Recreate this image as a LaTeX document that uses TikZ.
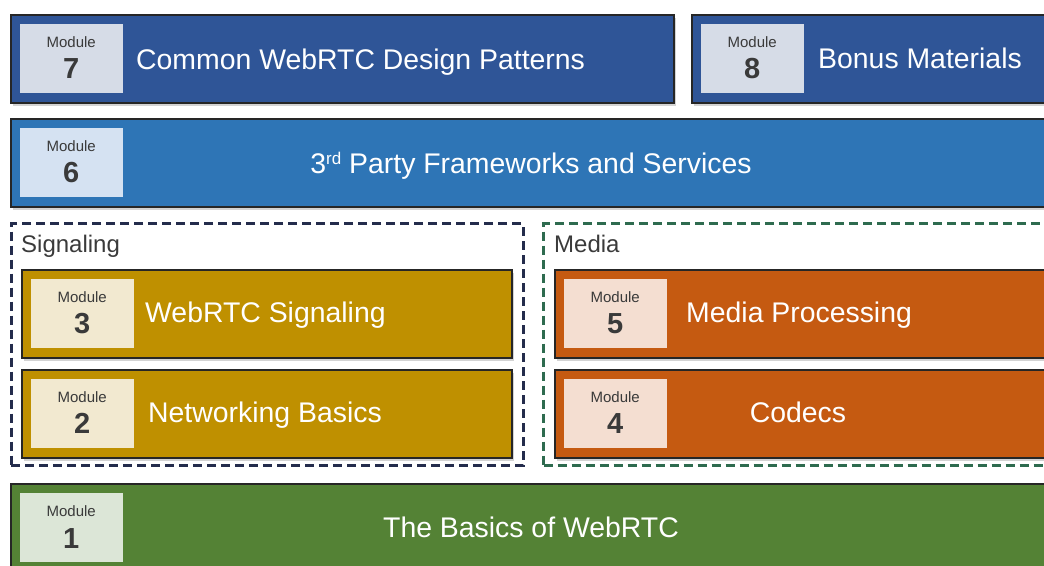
\documentclass[tikz,border=0pt]{standalone}
\usepackage{fontspec}
\setmainfont{Liberation Sans}
\usetikzlibrary{positioning,shadows}

\definecolor{navyfill}{HTML}{2F5597}
\definecolor{bluefill}{HTML}{2E75B6}
\definecolor{goldfill}{HTML}{BF9000}
\definecolor{rustfill}{HTML}{C55A11}
\definecolor{leaffill}{HTML}{548235}
\definecolor{navytag}{HTML}{D6DCE7}
\definecolor{bluetag}{HTML}{D5E2F2}
\definecolor{goldtag}{HTML}{F2E9D0}
\definecolor{rusttag}{HTML}{F4DED1}
\definecolor{leaftag}{HTML}{DCE6D7}
\definecolor{tagtext}{HTML}{3A3A3A}
\definecolor{sigline}{HTML}{242C4C}
\definecolor{medline}{HTML}{2E6B4F}

\tikzset{
  modbox/.style={draw=black!85, line width=2.4pt, anchor=north west, inner sep=0pt,
    minimum height=88pt,
    drop shadow={shadow xshift=2.5pt, shadow yshift=-3.5pt, opacity=.35}},
  tagbox/.style={minimum width=103pt, minimum height=69pt, inner sep=0pt},
  tagword/.style={text=tagtext, font=\fontsize{15}{18}\selectfont, inner sep=0pt, anchor=base},
  tagnum/.style={text=tagtext, font=\fontsize{29}{34}\selectfont\bfseries, inner sep=0pt, anchor=base},
  title/.style={text=white, font=\fontsize{28.4}{34}\selectfont, inner sep=0pt},
  groupbox/.style={line width=3.2pt, dash pattern=on 9pt off 5pt, anchor=north west, inner sep=0pt},
  grouplabel/.style={text=tagtext, font=\fontsize{24}{28}\selectfont, inner sep=0pt, anchor=base west}
}

% tag with "Module" and its number, put in the corner of a module box
\newcommand{\modtag}[3]{%
  \node[tagbox, fill=#3, below right=10pt and 10pt of #1.north west] (#1tag) {};
  \node[tagword] (#1word) at ([yshift=-23.5pt]#1tag.north) {Module};
  \node[tagnum] (#1num) at ([yshift=-55pt]#1tag.north) {#2};
}

\begin{document}
\begin{tikzpicture}[x=1pt,y=-1pt]
  \useasboundingbox (0,0) rectangle (1044,565);

  % top rows
  \node[modbox, fill=navyfill, minimum width=663pt] (m7) at (9.5,13.5) {};
  \node[modbox, fill=navyfill, minimum width=400pt] (m8) at (690.5,13.5) {};
  \node[modbox, fill=bluefill, minimum width=1080pt] (m6) at (9.5,117.5) {};
  \modtag{m7}{7}{navytag}
  \modtag{m8}{8}{navytag}
  \modtag{m6}{6}{bluetag}
  \node[title, anchor=base west] (m7text) at (136,69) {Common WebRTC Design Patterns};
  \node[title, anchor=base west] (m8text) at (818,68) {Bonus Materials};
  \node[title, anchor=base] (m6text) at (531,173) {3\raisebox{9pt}{\fontsize{17}{20}\selectfont rd} Party Frameworks and Services};

  % signaling and media groups
  \node[groupbox, draw=sigline, minimum width=512pt, minimum height=242pt] (sig) at (9.5,222) {};
  \node[groupbox, draw=medline, minimum width=540pt, minimum height=242pt] (med) at (542,222) {};
  \node[grouplabel] (siglabel) at (21,252) {Signaling};
  \node[grouplabel] (medlabel) at (554,252) {Media};

  \node[modbox, fill=goldfill, minimum width=490pt] (m3) at (20.5,268.5) {};
  \node[modbox, fill=goldfill, minimum width=490pt] (m2) at (20.5,368.5) {};
  \node[modbox, fill=rustfill, minimum width=520pt] (m5) at (553.5,268.5) {};
  \node[modbox, fill=rustfill, minimum width=520pt] (m4) at (553.5,368.5) {};
  \modtag{m3}{3}{goldtag}
  \modtag{m2}{2}{goldtag}
  \modtag{m5}{5}{rusttag}
  \modtag{m4}{4}{rusttag}
  \node[title, anchor=base west] (m3text) at (145,322) {WebRTC Signaling};
  \node[title, anchor=base west] (m2text) at (148,422) {Networking Basics};
  \node[title, anchor=base west] (m5text) at (686,322) {Media Processing};
  \node[title, anchor=base] (m4text) at (798,422) {Codecs};

  % base
  \node[modbox, fill=leaffill, minimum width=1080pt, minimum height=100pt] (m1) at (9.5,483) {};
  \modtag{m1}{1}{leaftag}
  \node[title, anchor=base] (m1text) at (531,537) {The Basics of WebRTC};
\end{tikzpicture}
\end{document}
